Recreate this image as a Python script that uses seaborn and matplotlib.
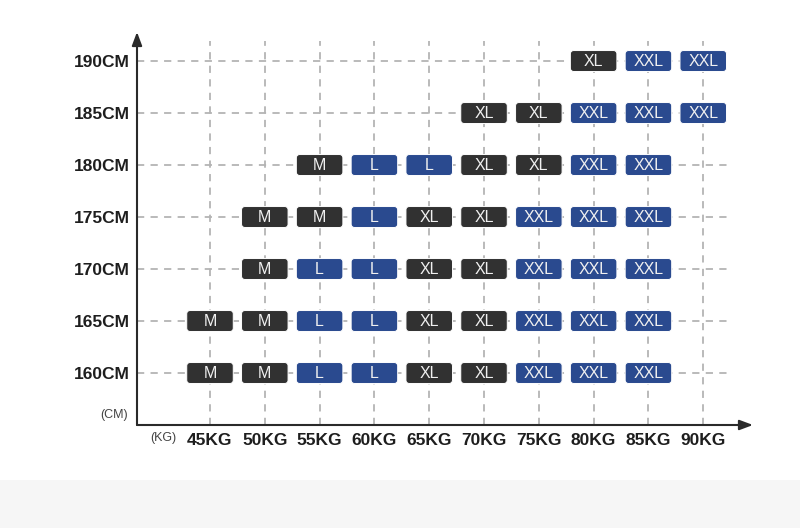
import numpy as np
import pandas as pd
import matplotlib
matplotlib.use("Agg")
import matplotlib.pyplot as plt
from matplotlib.path import Path
from matplotlib.patches import Rectangle
import seaborn as sns

# ---- data ----
weights = [45, 50, 55, 60, 65, 70, 75, 80, 85, 90]
heights = [160, 165, 170, 175, 180, 185, 190]
weight_labels = ["45KG", "50KG", "55KG", "60KG", "65KG", "70KG", "75KG", "80KG", "85KG", "90KG"]
height_labels = ["160CM", "165CM", "170CM", "175CM", "180CM", "185CM", "190CM"]

# size per (height) row, aligned with weights; None = empty
size_160 = ["M", "M", "L", "L", "XL", "XL", "XXL", "XXL", "XXL", None]
size_165 = ["M", "M", "L", "L", "XL", "XL", "XXL", "XXL", "XXL", None]
size_170 = [None, "M", "L", "L", "XL", "XL", "XXL", "XXL", "XXL", None]
size_175 = [None, "M", "M", "L", "XL", "XL", "XXL", "XXL", "XXL", None]
size_180 = [None, None, "M", "L", "L", "XL", "XL", "XXL", "XXL", None]
size_185 = [None, None, None, None, None, "XL", "XL", "XXL", "XXL", "XXL"]
size_190 = [None, None, None, None, None, None, None, "XL", "XXL", "XXL"]
size_rows = [size_160, size_165, size_170, size_175, size_180, size_185, size_190]

size_colors = {"M": "#313131", "L": "#2a4a8f", "XL": "#313131", "XXL": "#2a4a8f"}

rows = []
for h, row in zip(heights, size_rows):
    for w, s in zip(weights, row):
        if s is not None:
            rows.append({"weight": w, "height": h, "size": s})
df = pd.DataFrame(rows)

# ---- rounded rectangle marker ----
def rounded_rect(wid=1.0, hei=0.45, r=0.07, n=8):
    pts = []
    corners = [(wid/2 - r, hei/2 - r, 0), (-wid/2 + r, hei/2 - r, 90),
               (-wid/2 + r, -hei/2 + r, 180), (wid/2 - r, -hei/2 + r, 270)]
    for cx, cy, a0 in corners:
        for t in np.linspace(np.radians(a0), np.radians(a0 + 90), n):
            pts.append((cx + r*np.cos(t), cy + r*np.sin(t)))
    pts.append(pts[0])
    codes = [Path.MOVETO] + [Path.LINETO]*(len(pts) - 2) + [Path.CLOSEPOLY]
    return Path(pts, codes)

box = rounded_rect()

sns.set_style("white")
plt.rcParams["font.family"] = ["Liberation Sans", "DejaVu Sans"]

fig = plt.figure(figsize=(8, 5.28), dpi=100)
fig.patches.append(Rectangle((0, 0), 1, 48/528, transform=fig.transFigure,
                             facecolor="#f6f6f6", edgecolor="none", zorder=0))

ax = fig.add_axes([137/800, 1 - 425/528, (753 - 137)/800, (425 - 32)/528])
ax.patch.set_alpha(0)
ax.set_xlim(38.34, 94.54)
ax.set_ylim(155, 192.79)

# grid
ax.hlines(heights, 38.34, 92.4, colors="#b4b4b4", linestyles=(0, (4, 3.5)), lw=1.3, zorder=1)
ax.vlines(weights, 155, 191.9, colors="#b4b4b4", linestyles=(0, (4, 3.5)), lw=1.3, zorder=1)

sns.scatterplot(data=df, x="weight", y="height", hue="size", palette=size_colors,
                marker=box, s=33.5**2, linewidth=0.7, edgecolor="#ffffff",
                legend=False, ax=ax, zorder=3)

for _, r in df.iterrows():
    ax.text(r["weight"], r["height"] - 0.05, r["size"], ha="center", va="center",
            color="#f0f0f0", fontsize=11.5, zorder=4)

# axes/spines with arrows
for s in ax.spines.values():
    s.set_visible(False)
ax.annotate("", xy=(0, 1), xytext=(0, 0), xycoords="axes fraction",
            arrowprops=dict(arrowstyle="-|>,head_length=0.8,head_width=0.3",
                            color="#2a2a2a", lw=1.5, shrinkA=0, shrinkB=0))
ax.annotate("", xy=(1, 0), xytext=(0, 0), xycoords="axes fraction",
            arrowprops=dict(arrowstyle="-|>,head_length=0.8,head_width=0.3",
                            color="#2a2a2a", lw=1.5, shrinkA=0, shrinkB=0))

ax.set_xticks(weights)
ax.set_xticklabels(weight_labels, fontsize=12.5, fontweight="bold", color="#1e1e1e")
ax.set_yticks(heights)
ax.set_yticklabels(height_labels, fontsize=12.5, fontweight="bold", color="#1e1e1e")
ax.tick_params(axis="both", length=0, pad=5)
ax.tick_params(axis="x", pad=6)
ax.set_xlabel("")
ax.set_ylabel("")

fig.text(128/800, 1 - 415/528, "(CM)", ha="right", va="center", fontsize=9, color="#444444")
fig.text(150/800, 1 - 438/528, "(KG)", ha="left", va="center", fontsize=9, color="#444444")

fig.savefig("out.png", dpi=100)
